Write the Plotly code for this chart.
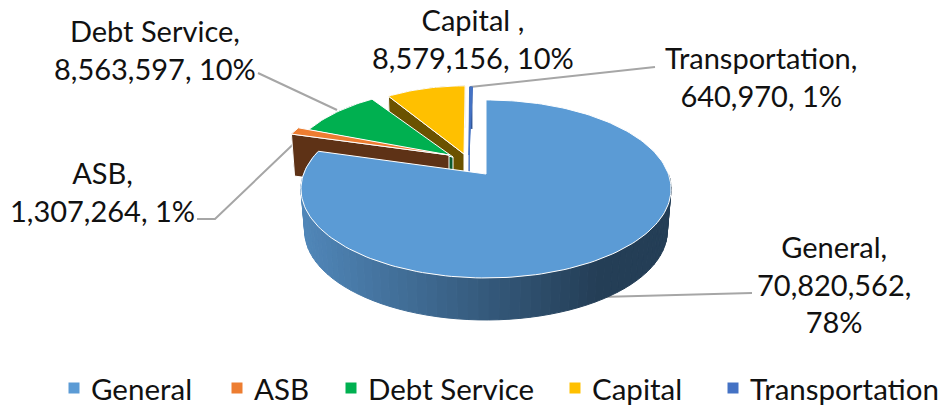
import math
import plotly.graph_objects as go

categories = ["General", "ASB", "Debt Service", "Capital", "Transportation"]
values = [70820562, 1307264, 8563597, 8579156, 640970]
percents = [78, 1, 10, 10, 1]
label_names = ["General,", "ASB,", "Debt Service,", "Capital ,", "Transportation,"]
colors = ["#5B9BD5", "#ED7D31", "#00B050", "#FFC000", "#4472C4"]
wall_colors = ["#2f5575", "#5E3216", "#0B5A2E", "#6B5200", "#2F5597"]

FONT = "Lato"
FS = 29
FS_LEGEND = 29.5
TXT = "#111111"

# projection of the tilted disc (layout only)
K = 0.168
A = 86.5
B = 182.4
DEPTH = 42
WARP = 1.0085
# per slice: apex x, apex y, x scale, y scale (explosion layout)
SLICE = [
    (486, 174, 1.0, 1.0),
    (449, 155, 0.94, 0.92),
    (453, 157, 0.90, 0.92),
    (464, 154, 0.84, 0.92),
    (469, 155, 0.42, 0.92),
]


def rim(theta_deg, s):
    t = math.radians(theta_deg * WARP)
    X, Y = math.sin(t), math.cos(t)
    d = 1 + K * Y
    return s[0] + s[2] * B * X / d, s[1] - s[3] * A * Y / d


def lower(p, s):
    return s[0] + (p[0] - s[0]) * 0.98, p[1] + DEPTH


total = sum(values)
edges = [0]
for v in values:
    edges.append(edges[-1] + v / total * 360)

fig = go.Figure()


def poly(pts, fill, line="rgba(0,0,0,0)", lw=0):
    xs = [p[0] for p in pts] + [pts[0][0]]
    ys = [p[1] for p in pts] + [pts[0][1]]
    fig.add_trace(go.Scatter(x=xs, y=ys, mode="lines", fill="toself", fillcolor=fill,
                             line=dict(color=line, width=lw), hoverinfo="skip", showlegend=False))


def leader(xs, ys):
    fig.add_trace(go.Scatter(x=xs, y=ys, mode="lines", line=dict(color="#A6A6A6", width=2),
                             hoverinfo="skip", showlegend=False))


def arc(i, n=60):
    a, b = edges[i], edges[i + 1]
    return [rim(a + (b - a) * j / n, SLICE[i]) for j in range(n + 1)]


# leader lines behind the pie
leader([258, 337], [73, 110])
leader([470, 655], [87, 67])
leader([197, 215, 305], [219, 219, 133])
leader([600, 752], [297, 293])

# back slices, painted back to front
for i in [4, 3, 2, 1]:
    s = SLICE[i]
    rim_pts = arc(i, 24)
    apex = (s[0], s[1])
    first = rim_pts[0]
    outline = "#FFFFFF" if i != 4 else colors[4]
    # outer wall and radial face below the leading edge
    poly(rim_pts + [lower(p, s) for p in reversed(rim_pts)], wall_colors[i])
    poly([first, apex, lower(apex, s), lower(first, s)], wall_colors[i], outline, 1)
    poly([apex] + rim_pts, colors[i], outline, 1)

# General: side wall with a horizontal shading, then the top
s0 = SLICE[0]
N = 70
visible_start, visible_end = 90 / WARP, 283
for j in range(N):
    t0 = visible_start + (visible_end - visible_start) * j / N
    t1 = visible_start + (visible_end - visible_start) * (j + 1) / N
    p0, p1 = rim(t0, s0), rim(t1, s0)
    q0, q1 = lower(p0, s0), lower(p1, s0)
    f = min(1.0, max(0.0, (600 - (p0[0] + p1[0]) / 2) / 295))
    col = "rgb(%d,%d,%d)" % (36 + 44 * f, 62 + 72 * f, 86 + 98 * f)
    poly([p0, p1, q1, q0], col, col, 1)

poly([(s0[0], s0[1])] + arc(0, 180), colors[0], "#FFFFFF", 1)

# data labels
label_pos = [(834, 284), (102, 191), (155, 49), (473, 38), (761, 76)]
for i, name in enumerate(label_names):
    if i == 0:
        text = f"{name}<br>{values[i]:,},<br>{percents[i]}%"
    else:
        text = f"{name}<br>{values[i]:,}, {percents[i]}%"
    fig.add_annotation(x=label_pos[i][0], y=label_pos[i][1], text=text, showarrow=False,
                       xanchor="center", yanchor="middle", align="center",
                       font=dict(family=FONT, size=FS, color=TXT))

# legend row
legend_x = [74, 237, 351, 575, 733]
for i, name in enumerate(categories):
    fig.add_trace(go.Scatter(x=[legend_x[i]], y=[388], mode="markers",
                             marker=dict(symbol="square", size=11, color=colors[i]),
                             hoverinfo="skip", showlegend=False))
    fig.add_annotation(x=legend_x[i] + 15, y=388, text=name, showarrow=False, xanchor="left",
                       yanchor="middle", font=dict(family=FONT, size=FS_LEGEND, color=TXT))

fig.update_layout(
    width=949, height=408, margin=dict(l=0, r=0, t=0, b=0), autosize=False,
    paper_bgcolor="#FFFFFF", plot_bgcolor="#FFFFFF", showlegend=False,
    xaxis=dict(range=[0, 949], visible=False, fixedrange=True),
    yaxis=dict(range=[408, 0], visible=False, fixedrange=True),
)
fig.write_html("out.html", post_script="document.body.style.margin='0';document.body.style.overflow='hidden';",
               config={"displayModeBar": False})
